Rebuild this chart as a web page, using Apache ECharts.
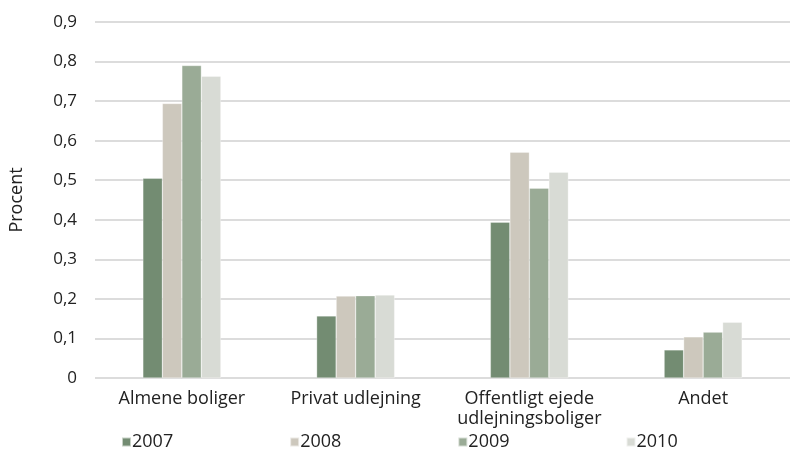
<!DOCTYPE html>
<html><head><meta charset="utf-8">
<script src="https://cdn.jsdelivr.net/npm/echarts@6/dist/echarts.min.js"></script>
<style>html,body{margin:0;padding:0;background:#fff}#c{width:790px;height:450px}</style>
</head><body><div id="c"></div>
<script>
const categories = ['Almene boliger', 'Privat udlejning', 'Offentligt ejede\nudlejningsboliger', 'Andet'];
const years = ['2007', '2008', '2009', '2010'];
const v2007 = [0.505, 0.157, 0.394, 0.071];
const v2008 = [0.694, 0.207, 0.571, 0.104];
const v2009 = [0.790, 0.208, 0.480, 0.116];
const v2010 = [0.763, 0.210, 0.520, 0.141];
const yTicks = [0, 0.1, 0.2, 0.3, 0.4, 0.5, 0.6, 0.7, 0.8, 0.9];
const colors = ['#738c72', '#cdc8bd', '#9aab96', '#d8dbd5'];
const values = [v2007, v2008, v2009, v2010];
const font = 'Open Sans';
const chart = echarts.init(document.getElementById('c'));
chart.setOption({
  animation: false,
  textStyle: {fontFamily: font},
  grid: {left: 95, right: 0, top: 22, bottom: 72},
  legend: {
    left: 116, bottom: -6, itemWidth: 9, itemHeight: 9, itemGap: 116,
    icon: 'rect',
    textStyle: {fontFamily: font, fontSize: 18, color: '#222', padding: [0, 0, 0, -4]},
    data: years
  },
  xAxis: {
    type: 'category', data: categories,
    axisLine: {show: false}, axisTick: {show: false},
    axisLabel: {fontFamily: font, fontSize: 18, color: '#222', margin: 11, lineHeight: 20, interval: 0}
  },
  yAxis: {
    type: 'value', min: 0, max: 0.9, interval: 0.1,
    name: 'Procent', nameLocation: 'middle', nameGap: 69, nameRotate: 90,
    nameTextStyle: {fontFamily: font, fontSize: 18, color: '#222'},
    axisLine: {show: false}, axisTick: {show: false},
    splitLine: {lineStyle: {color: '#d0d0d0', width: 1.5}},
    axisLabel: {fontFamily: font, fontSize: 17, color: '#222', margin: 18,
      formatter: v => { const t = yTicks.find(x => Math.abs(x - v) < 1e-9); return (t === undefined ? v : t).toString().replace('.', ','); }}
  },
  series: years.map((y, i) => ({
    name: y, type: 'bar', data: values[i], barWidth: 19.5, barGap: '0%',
    itemStyle: {color: colors[i], borderColor: 'rgba(255,255,255,0.6)', borderWidth: 0.5}
  }))
});
</script></body></html>
